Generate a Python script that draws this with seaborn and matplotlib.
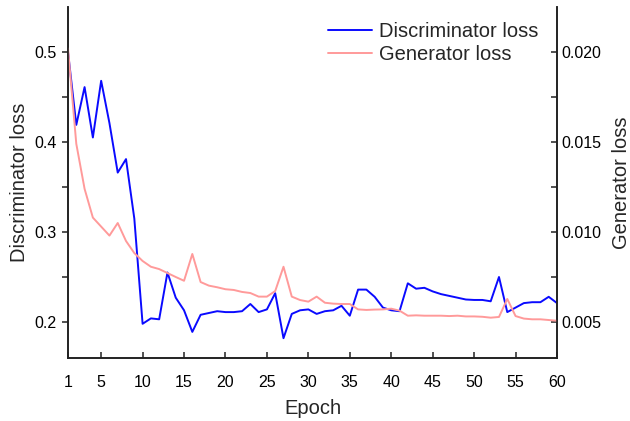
import numpy as np
import pandas as pd
import matplotlib
matplotlib.use("Agg")
import matplotlib.pyplot as plt
from matplotlib.ticker import MultipleLocator, FixedLocator
import seaborn as sns

sns.set_theme(style="white")
plt.rcParams['font.family'] = ['Liberation Sans', 'DejaVu Sans']

epochs = list(range(1, 61))
disc_loss = [0.500, 0.419, 0.461, 0.405, 0.468, 0.421, 0.366, 0.381, 0.315, 0.198,
             0.204, 0.203, 0.255, 0.227, 0.213, 0.189, 0.208, 0.210, 0.212, 0.211,
             0.211, 0.212, 0.220, 0.211, 0.214, 0.232, 0.182, 0.209, 0.213, 0.214,
             0.209, 0.212, 0.213, 0.218, 0.207, 0.236, 0.236, 0.228, 0.216, 0.213,
             0.212, 0.243, 0.237, 0.238, 0.234, 0.231, 0.229, 0.227, 0.225, 0.2245,
             0.2245, 0.223, 0.250, 0.211, 0.216, 0.221, 0.222, 0.222, 0.228, 0.221]
gen_loss = [0.0202, 0.0149, 0.0124, 0.0108, 0.0103, 0.0098, 0.0105, 0.0095, 0.00883, 0.00839,
            0.00807, 0.00794, 0.00772, 0.00750, 0.00729, 0.00878, 0.00722, 0.00702, 0.00693, 0.00682,
            0.00678, 0.00667, 0.00661, 0.00641, 0.00641, 0.00672, 0.00807, 0.00641, 0.00622, 0.00613,
            0.00641, 0.00607, 0.00602, 0.00600, 0.00600, 0.00570, 0.00567, 0.00569, 0.00570, 0.00574,
            0.00563, 0.00535, 0.00537, 0.00535, 0.00535, 0.00535, 0.00533, 0.00535, 0.00531, 0.00531,
            0.00529, 0.00524, 0.00528, 0.00628, 0.00533, 0.00519, 0.00515, 0.00515, 0.00511, 0.00507]
x_ticks = [1, 5, 10, 15, 20, 25, 30, 35, 40, 45, 50, 55, 60]

df = pd.DataFrame({"Epoch": epochs, "Discriminator loss": disc_loss, "Generator loss": gen_loss})

fig = plt.figure(figsize=(6.3, 4.21), dpi=100)
ax = fig.add_axes([68/630, 1-358/421, (557-68)/630, (358-7)/421])
ax2 = ax.twinx()

blue = "#0a0aff"
pink = "#ff9a9a"
sns.lineplot(data=df, x="Epoch", y="Discriminator loss", ax=ax, color=blue, lw=1.4, label="Discriminator loss", legend=False)
sns.lineplot(data=df, x="Epoch", y="Generator loss", ax=ax2, color=pink, lw=1.4, label="Generator loss", legend=False)

ax.set_xlim(1, 60)
ax.set_ylim(0.16, 0.55)
ax2.set_ylim(0.003, 0.0225)

ax.xaxis.set_major_locator(FixedLocator(x_ticks))
ax.yaxis.set_major_locator(FixedLocator([0.2, 0.3, 0.4, 0.5]))
ax.yaxis.set_minor_locator(FixedLocator([0.25, 0.35, 0.45]))
ax.set_yticklabels(["0.2", "0.3", "0.4", "0.5"])
ax2.yaxis.set_major_locator(FixedLocator([0.005, 0.010, 0.015, 0.020]))
ax2.yaxis.set_minor_locator(FixedLocator([0.0075, 0.0125, 0.0175]))
ax2.set_yticklabels(["0.005", "0.010", "0.015", "0.020"])

tick_kw = dict(labelsize=11.5, colors="#222222", labelcolor="black", width=1.1, length=4.5)
ax.tick_params(axis="x", which="major", direction="in", bottom=True, pad=12, **tick_kw)
ax.tick_params(axis="y", which="both", direction="out", left=True, **tick_kw)
ax2.tick_params(axis="y", which="both", direction="in", right=True, **tick_kw)

for a in (ax, ax2):
    a.spines["top"].set_visible(False)
    for s in ("left", "right", "bottom"):
        a.spines[s].set_color("#222222")
        a.spines[s].set_linewidth(1.2)

ax.set_xlabel("Epoch", fontsize=14.5, labelpad=7)
ax.set_ylabel("Discriminator loss", fontsize=14.5, labelpad=4)
ax2.set_ylabel("Generator loss", fontsize=14.5, labelpad=7)

h1, l1 = ax.get_legend_handles_labels()
h2, l2 = ax2.get_legend_handles_labels()
ax2.legend(h1 + h2, l1 + l2, loc="upper left", bbox_to_anchor=(328/630, 1-22/421),
           bbox_transform=fig.transFigure, frameon=False, fontsize=14.5,
           handlelength=2.2, handletextpad=0.35, labelspacing=0.2, borderaxespad=0, borderpad=0)

fig.savefig("out.png", dpi=100)
